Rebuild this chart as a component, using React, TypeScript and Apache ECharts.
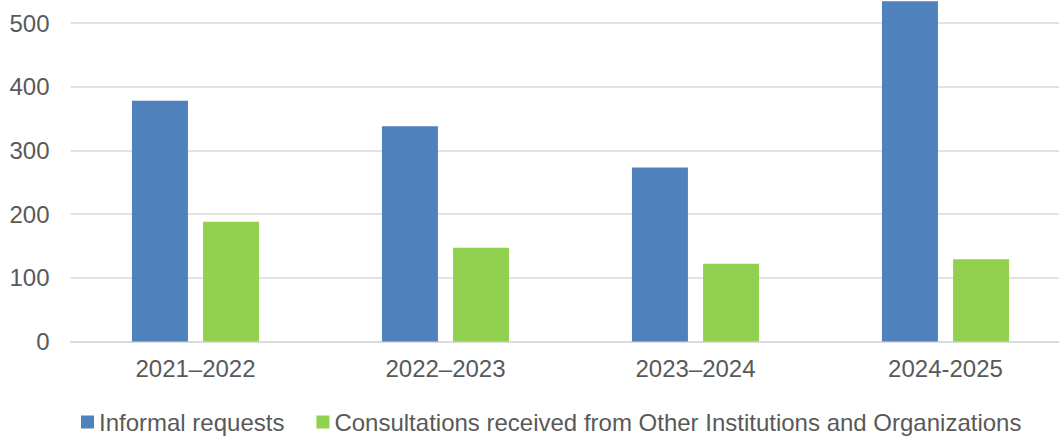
import React, { useEffect, useRef } from "react";
import * as echarts from "echarts";

const categories = ["2021–2022", "2022–2023", "2023–2024", "2024-2025"];
const informalRequests = [378, 338, 273, 534];
const consultations = [188, 147, 122, 129];
const seriesNames = [
  "Informal requests",
  "Consultations received from Other Institutions and Organizations",
];
const yMin = 0;
const yMax = 600;
const yInterval = 100;

const OFFSET = 41;

export default function App() {
  const ref = useRef<HTMLDivElement>(null);
  useEffect(() => {
    if (!ref.current) return;
    const chart = echarts.init(ref.current, null, { renderer: "svg" });
    const font = "'Liberation Sans', Arial, sans-serif";
    chart.setOption({
      animation: false,
      backgroundColor: "#ffffff",
      textStyle: { fontFamily: font },
      grid: {
        left: 70.5,
        width: 1000,
        top: 0.3,
        height: 382.2,
        containLabel: false,
        outerBoundsMode: "none",
      },
      legend: {
        left: 81,
        top: 410 + OFFSET,
        padding: 0,
        itemWidth: 13,
        itemHeight: 13,
        itemGap: 32,
        icon: "rect",
        textStyle: { fontSize: 24, lineHeight: 24, color: "#595959", fontFamily: font },
        data: seriesNames,
      },
      xAxis: {
        type: "category",
        data: categories,
        axisLine: { show: true, lineStyle: { color: "#D9D9D9", width: 1.5 } },
        axisTick: { show: false },
        axisLabel: { fontSize: 24, color: "#595959", margin: 15, fontFamily: font },
      },
      yAxis: {
        type: "value",
        min: yMin,
        max: yMax,
        interval: yInterval,
        axisLine: { show: false },
        axisTick: { show: false },
        axisLabel: {
          fontSize: 24,
          color: "#595959",
          margin: 21,
          fontFamily: font,
          showMaxLabel: false,
        },
        splitLine: { lineStyle: { color: "#D9D9D9", width: 1.5 } },
      },
      series: [
        {
          name: seriesNames[0],
          type: "bar",
          data: informalRequests,
          barWidth: 56,
          barGap: "27%",
          itemStyle: { color: "#4F81BD" },
        },
        {
          name: seriesNames[1],
          type: "bar",
          data: consultations,
          barWidth: 56,
          barGap: "27%",
          itemStyle: { color: "#92D050" },
        },
      ],
    });
    return () => chart.dispose();
  }, []);
  return (
    <div
      ref={ref}
      style={{ position: "fixed", left: 0, top: -OFFSET, width: 1059, height: 438 + OFFSET }}
    />
  );
}
